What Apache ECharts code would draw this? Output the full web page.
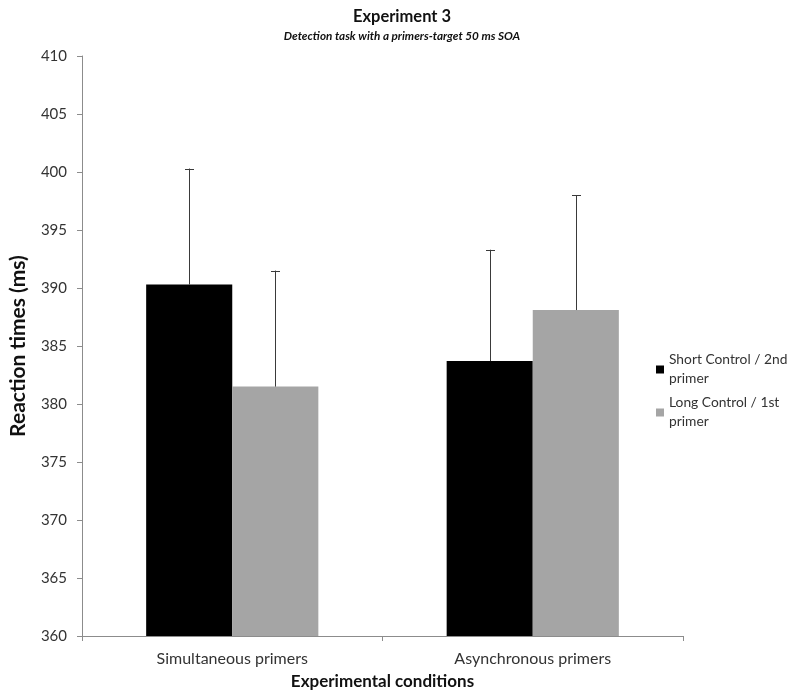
<!DOCTYPE html>
<html>
<head>
<meta charset="utf-8">
<script src="https://cdn.jsdelivr.net/npm/echarts@6/dist/echarts.min.js"></script>
<style>
html,body{margin:0;padding:0;background:#fff;}
#chart{width:791px;height:695px;}
</style>
</head>
<body>
<div id="chart"></div>
<script>
const categories = ['Simultaneous primers', 'Asynchronous primers'];
const seriesNames = ['Short Control / 2nd primer', 'Long Control / 1st primer'];
const shortMeans = [390.3, 383.7];
const longMeans = [381.5, 388.1];
const shortErr = [10.0, 9.6];
const longErr = [10.0, 9.9];
const yTicks = [360, 365, 370, 375, 380, 385, 390, 395, 400, 405, 410];

const FONT = 'Lato, "Open Sans", sans-serif';
const GAP = 0.427;

function errData(means, errs) {
  return means.map((m, i) => [i, m, errs[i]]);
}
function errSeries(name, means, errs, side) {
  return {
    type: 'custom',
    name: name + ' error',
    data: errData(means, errs),
    encode: { x: 0, y: 1 },
    z: 10,
    silent: true,
    renderItem: function (params, api) {
      const base = api.coord([api.value(0), api.value(1)]);
      const top = api.coord([api.value(0), api.value(1) + api.value(2)]);
      const bandW = api.size([1, 0])[0];
      const barW = bandW * (1 - GAP) / 2;
      const x = Math.round(base[0] + side * barW / 2) + 0.5;
      const capHalf = 4.5;
      return {
        type: 'group',
        children: [
          { type: 'line', shape: { x1: x, y1: base[1], x2: x, y2: top[1] },
            style: { stroke: '#3a3a3a', lineWidth: 1 } },
          { type: 'line', shape: { x1: x - capHalf, y1: Math.round(top[1]) + 0.5, x2: x + capHalf, y2: Math.round(top[1]) + 0.5 },
            style: { stroke: '#3a3a3a', lineWidth: 1 } }
        ]
      };
    }
  };
}

const chart = echarts.init(document.getElementById('chart'), null, { renderer: 'canvas' });
chart.setOption({
  animation: false,
  backgroundColor: '#ffffff',
  title: {
    text: 'Experiment 3',
    subtext: 'Detection task with a primers-target 50 ms SOA',
    left: 397, textAlign: 'center',
    top: 3,
    itemGap: 5,
    textStyle: { fontFamily: FONT, fontSize: 16.5, fontWeight: 'bold', color: '#111' },
    subtextStyle: { fontFamily: FONT, fontSize: 11.7, fontWeight: 'bold', fontStyle: 'italic', color: '#111' }
  },
  legend: {
    orient: 'vertical',
    left: 651, top: 336,
    itemWidth: 8, itemHeight: 8,
    itemGap: -14,
    icon: 'rect',
    data: seriesNames,
    formatter: function (n) { return n.replace(' primer', '\nprimer'); },
    textStyle: { fontFamily: FONT, fontSize: 13.8, color: '#333', lineHeight: 19, padding: [19, 0, 0, 0] }
  },
  grid: { left: 79, right: 108, top: 56, bottom: 58 },
  xAxis: {
    type: 'category',
    data: categories,
    name: 'Experimental conditions',
    nameLocation: 'middle',
    nameGap: 37,
    nameTextStyle: { fontFamily: FONT, fontSize: 17, fontWeight: 'bold', color: '#111' },
    axisLine: { lineStyle: { color: '#8c8c8c', width: 1 } },
    axisTick: { show: true, length: 5, lineStyle: { color: '#8c8c8c' } },
    axisLabel: { fontFamily: FONT, fontSize: 16, color: '#333', margin: 15 }
  },
  yAxis: {
    type: 'value',
    min: 360, max: 410, interval: 5,
    name: 'Reaction times (ms)',
    nameLocation: 'middle',
    nameGap: 53,
    nameTextStyle: { fontFamily: FONT, fontSize: 21, fontWeight: 'bold', color: '#111' },
    axisLine: { show: true, lineStyle: { color: '#8c8c8c', width: 1 } },
    axisTick: { show: true, length: 5, lineStyle: { color: '#8c8c8c' } },
    splitLine: { show: false },
    axisLabel: { fontFamily: FONT, fontSize: 15, color: '#333', margin: 15,
      formatter: function (v) { return yTicks.indexOf(v) >= 0 ? String(v) : ''; } }
  },
  series: [
    { type: 'bar', name: seriesNames[0], data: shortMeans, barGap: '0%', barCategoryGap: (GAP * 100) + '%',
      itemStyle: { color: '#000000' }, silent: true },
    { type: 'bar', name: seriesNames[1], data: longMeans, barGap: '0%', barCategoryGap: (GAP * 100) + '%',
      itemStyle: { color: '#a5a5a5' }, silent: true },
    errSeries(seriesNames[0], shortMeans, shortErr, -1),
    errSeries(seriesNames[1], longMeans, longErr, 1)
  ]
});
</script>
</body>
</html>
